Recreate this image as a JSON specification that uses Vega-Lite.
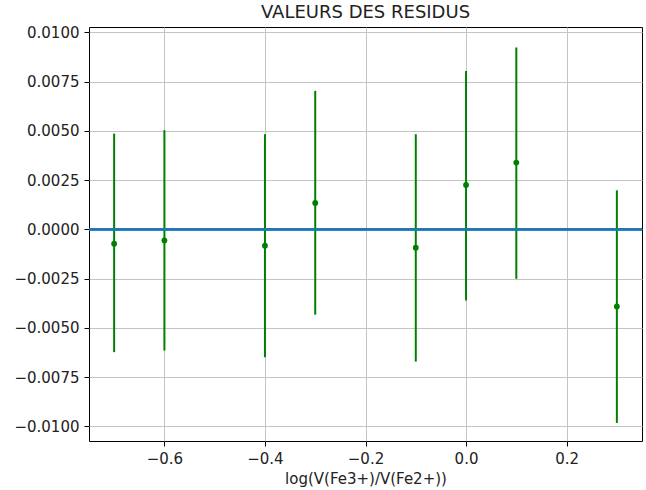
{
  "$schema": "https://vega.github.io/schema/vega-lite/v6.json",
  "autosize": {"type": "none"},
  "width": 553,
  "height": 414,
  "padding": {"left": 89, "top": 27, "right": 4, "bottom": 49},
  "background": "white",
  "config": {
    "view": {"stroke": "black", "strokeWidth": 1},
    "font": "DejaVu Sans",
    "axis": {
      "domain": false,
      "grid": true,
      "gridColor": "#c4c4c4",
      "gridWidth": 1,
      "tickColor": "black",
      "tickSize": 5,
      "tickWidth": 1,
      "labelColor": "#222222",
      "labelFont": "DejaVu Sans",
      "labelFontSize": 15,
      "labelPadding": 5,
      "titleFont": "DejaVu Sans",
      "titleFontSize": 15,
      "titleFontWeight": "normal",
      "titleColor": "#222222"
    },
    "title": {"font": "DejaVu Sans", "fontSize": 18, "fontWeight": "normal", "color": "#222222", "offset": 3}
  },
  "title": {"text": "VALEURS DES RESIDUS", "anchor": "middle"},
  "data": {
    "values": [
      {"x": -0.7, "res": -0.00073, "lo": -0.00623, "hi": 0.00486},
      {"x": -0.6, "res": -0.00056, "lo": -0.00615, "hi": 0.00503},
      {"x": -0.4, "res": -0.00083, "lo": -0.00649, "hi": 0.00483},
      {"x": -0.3, "res": 0.00134, "lo": -0.00433, "hi": 0.00703},
      {"x": -0.1, "res": -0.00093, "lo": -0.00671, "hi": 0.00483},
      {"x": 0.0, "res": 0.00225, "lo": -0.00361, "hi": 0.00804},
      {"x": 0.1, "res": 0.00339, "lo": -0.00251, "hi": 0.00923},
      {"x": 0.3, "res": -0.00391, "lo": -0.00982, "hi": 0.00198}
    ]
  },
  "layer": [
    {
      "mark": {"type": "rule", "color": "#008000", "strokeWidth": 2},
      "encoding": {
        "x": {"field": "x", "type": "quantitative", "scale": {"domain": [-0.75, 0.35], "nice": false, "zero": false},
              "axis": {"values": [-0.6, -0.4, -0.2, 0.0, 0.2], "format": ".1f", "title": "log(V(Fe3+)/V(Fe2+))", "titlePadding": 5}},
        "y": {"field": "lo", "type": "quantitative", "scale": {"domain": [-0.01074, 0.01027], "nice": false, "zero": false},
              "axis": {"values": [-0.01, -0.0075, -0.005, -0.0025, 0, 0.0025, 0.005, 0.0075, 0.01], "format": ".4f", "title": null}},
        "y2": {"field": "hi"}
      }
    },
    {
      "mark": {"type": "point", "filled": true, "color": "#008000", "size": 34, "opacity": 1},
      "encoding": {
        "x": {"field": "x", "type": "quantitative"},
        "y": {"field": "res", "type": "quantitative"}
      }
    },
    {
      "mark": {"type": "rule", "color": "#1f77b4", "strokeWidth": 2},
      "encoding": {"y": {"datum": 0}}
    }
  ]
}
